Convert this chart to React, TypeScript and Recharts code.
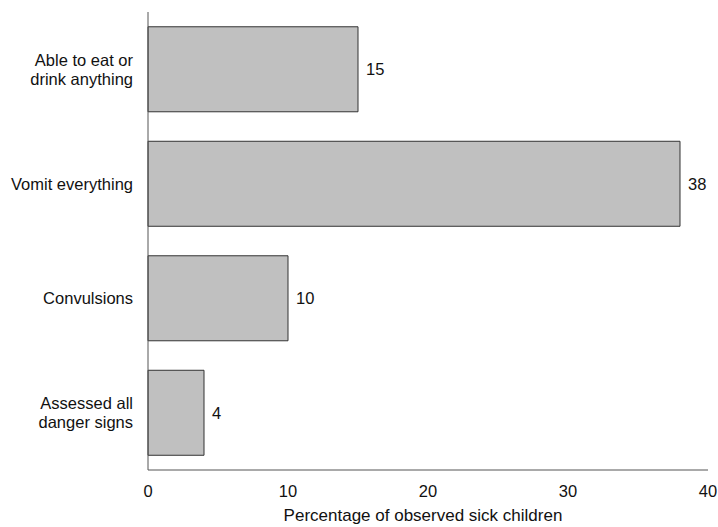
import { BarChart, Bar, XAxis, YAxis, LabelList } from "recharts";

const categories = [
  "Able to eat or\ndrink anything",
  "Vomit everything",
  "Convulsions",
  "Assessed all\ndanger signs",
];
const percentages = [15, 38, 10, 4];
const xTicks = [0, 10, 20, 30, 40];

const data = categories.map((name, i) => ({ name, value: percentages[i] }));

const FONT = "Arial, 'Liberation Sans', sans-serif";

function CategoryTick(props: any) {
  const { x, y, payload } = props;
  const lines = String(payload.value).split("\n");
  const lineHeight = 19;
  const startY = y - ((lines.length - 1) * lineHeight) / 2;
  return (
    <text
      x={x - 7}
      y={startY}
      textAnchor="end"
      dominantBaseline="central"
      fontSize={16.5}
      fontFamily={FONT}
      fill="#111"
    >
      {lines.map((line, i) => (
        <tspan key={i} x={x - 7} y={startY + i * lineHeight}>
          {line}
        </tspan>
      ))}
    </text>
  );
}

export default function App() {
  return (
    <div style={{ position: "absolute", left: 0, top: 0, background: "#fff" }}>
      <BarChart
        width={718}
        height={527}
        data={data}
        layout="vertical"
        margin={{ top: 12, right: 10, bottom: 0, left: 0 }}
        barCategoryGap="12.9%"
      >
        <XAxis
          type="number"
          domain={[0, 40]}
          ticks={xTicks}
          tickLine={false}
          axisLine={{ stroke: "#555" }}
          tickMargin={9}
          height={57}
          tick={{ fontSize: 16.5, fill: "#111", fontFamily: FONT }}
          label={{
            value: "Percentage of observed sick children",
            position: "insideBottom",
            offset: 6,
            dx: -5,
            style: { fontSize: 17, fill: "#111", fontFamily: FONT },
          }}
        />
        <YAxis
          type="category"
          dataKey="name"
          width={148}
          tickLine={false}
          axisLine={{ stroke: "#555" }}
          tick={<CategoryTick />}
        />
        <Bar
          dataKey="value"
          fill="#c0c0c0"
          stroke="#333"
          strokeWidth={1}
          isAnimationActive={false}
        >
          <LabelList
            dataKey="value"
            position="right"
            offset={8}
            style={{ fontSize: 16.5, fill: "#111", fontFamily: FONT }}
          />
        </Bar>
      </BarChart>
    </div>
  );
}
